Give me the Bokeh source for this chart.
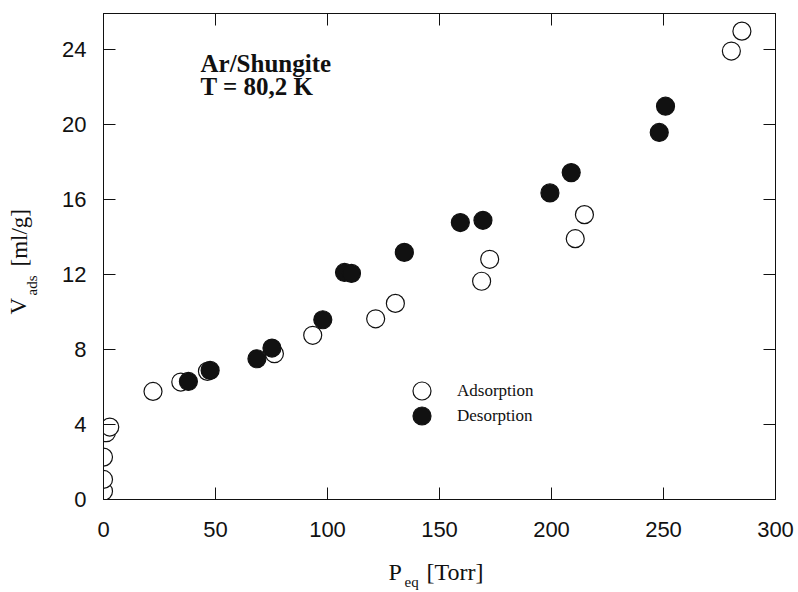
import math
from bokeh.plotting import figure
from bokeh.layouts import column, row
from bokeh.models import (Range1d, LinearAxis, FixedTicker, Label, Legend, LegendItem)
from bokeh.embed import file_html
from bokeh.resources import INLINE

# ---- data ----
ads_p = [0.0, 0.0, 0.0, 1.3, 2.8, 22.1, 34.5, 46.4, 76.3, 93.4, 121.5, 130.3,
         168.8, 172.4, 210.6, 214.7, 280.3, 285.0]
ads_v = [0.44, 1.07, 2.26, 3.56, 3.86, 5.76, 6.26, 6.83, 7.77, 8.75, 9.63, 10.45,
         11.63, 12.8, 13.9, 15.18, 23.9, 24.96]
des_p = [37.9, 47.6, 68.5, 75.2, 97.9, 107.6, 110.7, 134.3, 159.3, 169.4,
         199.3, 208.8, 248.1, 250.9]
des_v = [6.29, 6.88, 7.5, 8.07, 9.58, 12.1, 12.05, 13.17, 14.76, 14.88,
         16.34, 17.42, 19.56, 20.96]
x_ticks = [0, 50, 100, 150, 200, 250, 300]
y_ticks = [0, 4, 8, 12, 16, 20, 24]
title_lines = ["Ar/Shungite", "T = 80,2 K"]
series_names = ["Adsorption", "Desorption"]
x_title = ["P", "eq", "[Torr]"]
y_title = ["V", "ads", "[ml/g]"]

INK = "#111111"
LEFT_W = 50
MAIN_H = 552

p = figure(width=798 - LEFT_W, height=MAIN_H, output_backend="svg",
           toolbar_location=None,
           x_range=Range1d(0, 300), y_range=Range1d(0, 25.9),
           min_border_left=53, min_border_right=23, min_border_top=13,
           min_border_bottom=53, background_fill_color="white",
           border_fill_color="white")
p.grid.visible = False
p.outline_line_color = INK
p.outline_line_width = 1


def style_axis(ax, show_labels=True):
    ax.axis_line_color = INK
    ax.axis_line_width = 1
    ax.major_tick_in = 12
    ax.major_tick_out = 0
    ax.major_tick_line_color = INK
    ax.minor_tick_line_color = None
    ax.major_label_text_font = "Liberation Sans"
    if show_labels:
        ax.major_label_text_color = INK
        ax.major_label_text_font_size = "22px"
    else:
        ax.major_label_text_color = None
        ax.major_label_text_font_size = "1px"
        ax.major_label_standoff = 0


p.xaxis.ticker = FixedTicker(ticks=x_ticks)
p.yaxis.ticker = FixedTicker(ticks=y_ticks)
style_axis(p.xaxis[0])
style_axis(p.yaxis[0])
p.xaxis[0].major_label_standoff = 22
p.yaxis[0].major_label_standoff = 17

top = LinearAxis(ticker=FixedTicker(ticks=x_ticks))
right = LinearAxis(ticker=FixedTicker(ticks=y_ticks))
style_axis(top, False)
style_axis(right, False)
p.add_layout(top, "above")
p.add_layout(right, "right")

ads = p.scatter(ads_p, ads_v, size=18, marker="circle", fill_color="white",
                line_color=INK, line_width=1.2)
des = p.scatter(des_p, des_v, size=18, marker="circle", fill_color=INK,
                line_color=INK, line_width=1.2)

for name, rend, loc in [(series_names[0], ads, (296, 86)),
                        (series_names[1], des, (296, 61))]:
    lg = Legend(items=[LegendItem(label=name, renderers=[rend])],
                location=loc, glyph_width=45, glyph_height=45,
                padding=0, margin=0, label_standoff=13,
                label_text_font="Liberation Serif", label_text_font_size="17px",
                label_text_color=INK, label_text_baseline="middle",
                border_line_alpha=0, background_fill_alpha=0)
    p.add_layout(lg, "center")

# title block
for i, t in enumerate(title_lines):
    p.add_layout(Label(x=97, y=436 - 23 * i, x_units="screen", y_units="screen",
                       text=t, text_font="Liberation Serif", text_font_style="bold",
                       text_font_size="25px", text_color=INK,
                       text_baseline="alphabetic"))


def strip(w, h):
    f = figure(width=w, height=h, output_backend="svg", toolbar_location=None,
               min_border=0, min_border_left=0, min_border_right=0,
               min_border_top=0, min_border_bottom=0,
               x_axis_type=None, y_axis_type=None)
    f.grid.visible = False
    f.outline_line_color = None
    f.background_fill_color = "white"
    f.border_fill_color = "white"
    return f


def lab(fig, x, y, text, size, angle=0.0):
    fig.add_layout(Label(x=x, y=y, x_units="screen", y_units="screen", text=text,
                         text_font="Liberation Serif", text_font_size=size,
                         text_color=INK, text_baseline="alphabetic", angle=angle))


# y axis title strip  V_ads [ml/g]
ly = strip(LEFT_W, MAIN_H)
lab(ly, 18, 185, y_title[0], "23px", math.pi / 2)
lab(ly, 31, 204, y_title[1], "15px", math.pi / 2)
lab(ly, 19, 233, y_title[2], "23px", math.pi / 2)

# x axis title strip  P_eq [Torr]
bx = strip(798, 592 - MAIN_H)
lab(bx, 388, 21, x_title[0], "24px")
lab(bx, 404, 11, x_title[1], "15px")
lab(bx, 426, 21, x_title[2], "24px")

layout = column(row(ly, p, spacing=0), bx, spacing=0)

open("out.html", "w").write(file_html(layout, INLINE))
